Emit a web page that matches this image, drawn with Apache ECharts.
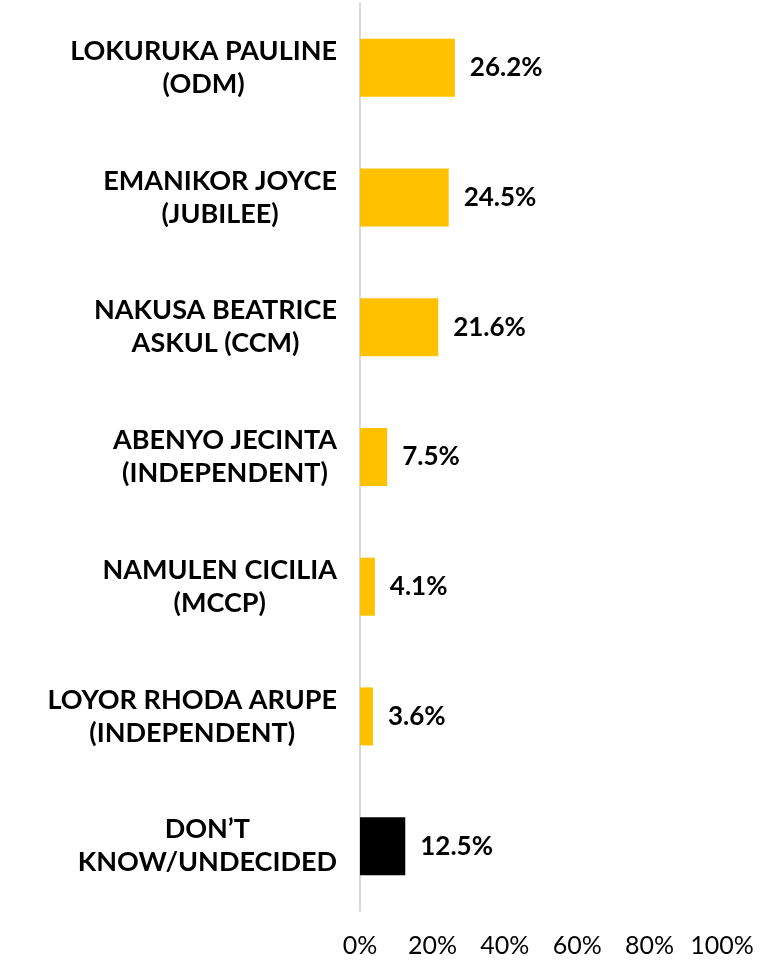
<!DOCTYPE html>
<html>
<head>
<meta charset="utf-8">
<script src="https://cdn.jsdelivr.net/npm/echarts@6/dist/echarts.min.js"></script>
<style>
  html, body { margin: 0; padding: 0; background: #fff; }
  #chart { width: 767px; height: 961px; }
</style>
</head>
<body>
<div id="chart"></div>
<script>
const categories = [
    "LOKURUKA PAULINE\n(ODM)",
    "EMANIKOR JOYCE\n(JUBILEE)",
    "NAKUSA BEATRICE\nASKUL (CCM)",
    "ABENYO JECINTA\n(INDEPENDENT)",
    "NAMULEN CICILIA\n(MCCP)",
    "LOYOR RHODA ARUPE\n(INDEPENDENT)",
    "DON\u2019T\nKNOW/UNDECIDED",
];
const values = [26.2, 24.5, 21.6, 7.5, 4.1, 3.6, 12.5];
const xTicks = [0, 20, 40, 60, 80, 100];

const font = "Lato, 'Noto Sans', sans-serif";
const chart = echarts.init(document.getElementById("chart"));

// lines of each category label are centred inside a right-anchored block
const centreLines = (v) => v.split("\n").map((s) => `{c|${s}}`).join("\n");

const option = {
    animation: false,
    grid: { left: 360, right: 45, top: 3, bottom: 50 },
    xAxis: {
        type: "value",
        min: xTicks[0],
        max: xTicks[xTicks.length - 1],
        interval: 20,
        axisLine: { show: false },
        axisTick: { show: false },
        splitLine: { show: false },
        axisLabel: {
            formatter: "{value}%",
            color: "#000",
            fontFamily: font,
            fontSize: 25,
            margin: 22,
        },
    },
    yAxis: {
        type: "category",
        inverse: true,
        data: categories,
        axisLine: { show: true, lineStyle: { color: "#d9d9d9", width: 2 } },
        axisTick: { show: false },
        axisLabel: {
            formatter: centreLines,
            align: "right",
            margin: 23,
            rich: {
                c: {
                    align: "center",
                    color: "#000",
                    fontFamily: font,
                    fontWeight: "bold",
                    fontSize: 27,
                    lineHeight: 33,
                },
            },
        },
    },
    series: [
        {
            type: "bar",
            data: values,
            barWidth: 58,
            itemStyle: {
                color: (p) => (p.dataIndex === values.length - 1 ? "#000000" : "#FFC000"),
            },
            label: {
                show: true,
                position: "right",
                distance: 15,
                formatter: (p) => p.value.toFixed(1) + "%",
                color: "#000",
                fontFamily: font,
                fontWeight: "bold",
                fontSize: 26,
            },
        },
    ],
};

chart.setOption(option);
</script>
</body>
</html>
